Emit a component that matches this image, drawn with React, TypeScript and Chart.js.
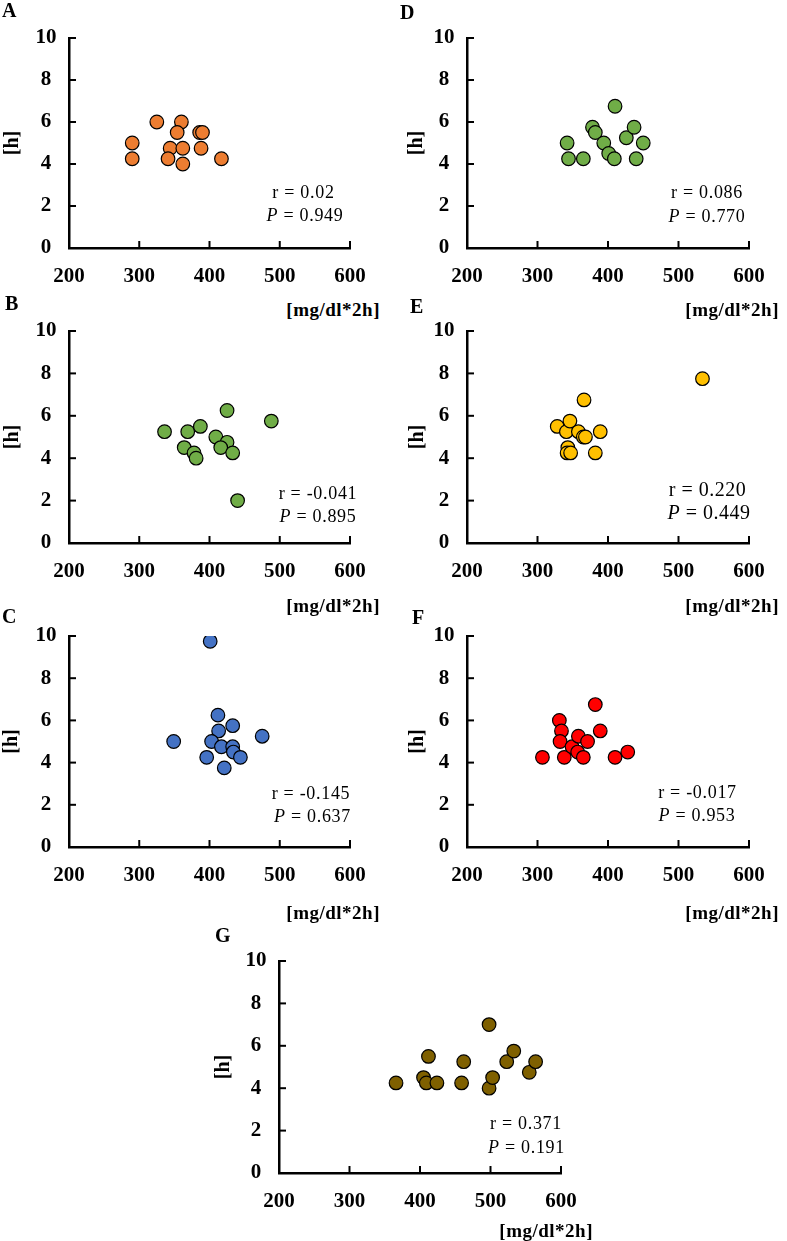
import { useEffect, useRef } from "react"
import Chart from "chart.js/auto"

// x: glucose AUC [mg/dl*2h], y: duration [h]
const aGlucose = [290, 290, 325, 360, 354, 344, 341, 362, 362, 386, 390, 388, 417]
const aHours = [5.0, 4.25, 6.0, 6.0, 5.5, 4.75, 4.25, 4.75, 4.0, 5.5, 5.5, 4.75, 4.25]

const bGlucose = [336, 369, 387, 364, 378, 381, 409, 425, 425, 416, 433, 488, 440]
const bHours = [5.25, 5.25, 5.5, 4.5, 4.25, 4.0, 5.0, 6.25, 4.75, 4.5, 4.25, 5.75, 2.0]

const cGlucose = [401, 349, 396, 412, 413, 403, 417, 433, 433, 434, 444, 421, 475]
const cHours = [9.75, 5.0, 4.25, 6.25, 5.5, 5.0, 4.75, 5.75, 4.75, 4.5, 4.25, 3.75, 5.25]

const dGlucose = [342, 344, 365, 378, 382, 394, 401, 409, 410, 426, 437, 440, 450]
const dHours = [5.0, 4.25, 4.25, 5.75, 5.5, 5.0, 4.5, 4.25, 6.75, 5.25, 5.75, 4.25, 5.0]

const eGlucose = [328, 341, 346, 358, 365, 368, 366, 389, 382, 343, 342, 347, 534]
const eHours = [5.5, 5.25, 5.75, 5.25, 5.0, 5.0, 6.75, 5.25, 4.25, 4.5, 4.25, 4.25, 7.75]

const fGlucose = [307, 331, 334, 332, 338, 349, 357, 358, 365, 371, 382, 389, 410, 428]
const fHours = [4.25, 6.0, 5.5, 5.0, 4.25, 4.75, 4.5, 5.25, 4.25, 5.0, 6.75, 5.5, 4.25, 4.5]

const gGlucose = [366, 405, 412, 409, 424, 459, 462, 498, 498, 503, 523, 533, 555, 564]
const gHours = [4.25, 4.5, 5.5, 4.25, 4.25, 4.25, 5.25, 7.0, 4.0, 4.5, 5.25, 5.75, 4.75, 5.25]

const xTicks = [200, 300, 400, 500, 600]
const yTicks = [0, 2, 4, 6, 8, 10]

const rValues = ["0.02", "-0.041", "-0.145", "0.086", "0.220", "-0.017", "0.371"]
const pValues = ["0.949", "0.895", "0.637", "0.770", "0.449", "0.953", "0.191"]

const SERIF = "'Liberation Serif', 'Times New Roman', serif"
Chart.defaults.font.family = SERIF
Chart.defaults.color = "#000"

type Panel = {
  letter: string
  xs: number[]
  ys: number[]
  r: string
  p: string
  color: string
  // plot area in page px
  left: number
  right: number
  top: number
  bottom: number
  titleX: number
  letterPos: [number, number]
  rPos: [number, number]
  pPos: [number, number]
  unitPos: [number, number] // right edge, center y
  textSize: number
}

const panels: Panel[] = [
  { letter: "A", xs: aGlucose, ys: aHours, r: rValues[0], p: pValues[0], color: "#ED7D31",
    left: 69, right: 350, top: 38, bottom: 248, titleX: 12,
    letterPos: [2, 10], rPos: [303.5, 192], pPos: [305, 215], unitPos: [380, 307], textSize: 18 },
  { letter: "B", xs: bGlucose, ys: bHours, r: rValues[1], p: pValues[1], color: "#70AD47",
    left: 69, right: 350, top: 331, bottom: 543, titleX: 12,
    letterPos: [5, 303], rPos: [318, 493], pPos: [318, 516], unitPos: [380, 603], textSize: 18 },
  { letter: "C", xs: cGlucose, ys: cHours, r: rValues[2], p: pValues[2], color: "#4472C4",
    left: 69, right: 350, top: 636, bottom: 847, titleX: 11,
    letterPos: [2, 616], rPos: [311, 793], pPos: [312.5, 816], unitPos: [380, 910], textSize: 18 },
  { letter: "D", xs: dGlucose, ys: dHours, r: rValues[3], p: pValues[3], color: "#70AD47",
    left: 467, right: 749, top: 38, bottom: 248, titleX: 416,
    letterPos: [400, 11.7], rPos: [707, 192], pPos: [707, 216], unitPos: [779, 307], textSize: 18 },
  { letter: "E", xs: eGlucose, ys: eHours, r: rValues[4], p: pValues[4], color: "#FFC000",
    left: 467, right: 749, top: 331, bottom: 543, titleX: 417,
    letterPos: [410, 306], rPos: [707.5, 489], pPos: [709, 512], unitPos: [779, 603], textSize: 20 },
  { letter: "F", xs: fGlucose, ys: fHours, r: rValues[5], p: pValues[5], color: "#FF0000",
    left: 467, right: 749, top: 636, bottom: 847, titleX: 417,
    letterPos: [412, 617], rPos: [697.5, 792], pPos: [697, 815], unitPos: [779, 910], textSize: 18 },
  { letter: "G", xs: gGlucose, ys: gHours, r: rValues[6], p: pValues[6], color: "#7F6000",
    left: 279, right: 561, top: 961, bottom: 1173, titleX: 223,
    letterPos: [215, 935], rPos: [526, 1123], pPos: [526.5, 1147], unitPos: [593, 1228], textSize: 18 },
]

// tick marks pointing into the plot area
const innerTicks = {
  id: "innerTicks",
  afterDraw(chart: any) {
    const { ctx, scales } = chart
    const x = scales.x
    const y = scales.y
    ctx.save()
    ctx.strokeStyle = "#000"
    ctx.lineWidth = 2
    x.ticks.forEach((t: any) => {
      const px = x.getPixelForValue(t.value)
      ctx.beginPath()
      ctx.moveTo(px, y.bottom)
      ctx.lineTo(px, y.bottom - 7)
      ctx.stroke()
    })
    y.ticks.forEach((t: any) => {
      const py = y.getPixelForValue(t.value)
      ctx.beginPath()
      ctx.moveTo(x.left, py)
      ctx.lineTo(x.left + 7, py)
      ctx.stroke()
    })
    ctx.restore()
  },
}

// must exceed the scales' own label overflow (half label + tick padding)
const PAD_TOP = 30
const PAD_RIGHT = 36
const X_AXIS_H = 48

function ScatterPanel({ panel }: { panel: Panel }) {
  const chartRef = useRef<HTMLCanvasElement>(null)

  const cLeft = panel.titleX - 12
  const cTop = panel.top - PAD_TOP
  const width = panel.right + PAD_RIGHT - cLeft
  const height = panel.bottom + X_AXIS_H - cTop
  const yAxisW = panel.left - cLeft

  useEffect(() => {
    if (!chartRef.current) return
    const chart = new Chart(chartRef.current, {
      type: "scatter",
      data: {
        datasets: [
          {
            data: panel.xs.map((x, i) => ({ x, y: panel.ys[i] })),
            pointBackgroundColor: panel.color,
            pointBorderColor: "#000",
            pointBorderWidth: 1.2,
            pointRadius: 6.8,
            showLine: false,
          },
        ],
      },
      options: {
        responsive: false,
        animation: false,
        layout: { padding: { top: PAD_TOP, right: PAD_RIGHT, left: 0, bottom: 0 } },
        plugins: { legend: { display: false }, tooltip: { enabled: false } },
        scales: {
          x: {
            type: "linear",
            min: xTicks[0],
            max: xTicks[xTicks.length - 1],
            afterBuildTicks: (s: any) => {
              s.ticks = xTicks.map((v) => ({ value: v }))
            },
            afterFit: (s: any) => {
              s.height = X_AXIS_H
            },
            grid: { display: false, drawTicks: false },
            border: { color: "#000", width: 2.5 },
            ticks: { color: "#000", padding: 16, autoSkip: false, maxRotation: 0, font: { size: 21, weight: "bold" } },
          },
          y: {
            type: "linear",
            min: yTicks[0],
            max: yTicks[yTicks.length - 1],
            afterBuildTicks: (s: any) => {
              s.ticks = yTicks.map((v) => ({ value: v }))
            },
            afterFit: (s: any) => {
              s.width = yAxisW
            },
            grid: { display: false, drawTicks: false },
            border: { color: "#000", width: 2.5 },
            ticks: { color: "#000", padding: 12.5, crossAlign: "center", autoSkip: false, font: { size: 21, weight: "bold" } },
            title: { display: true, text: "[h]", color: "#000", padding: { top: 0.6, bottom: 0 }, font: { size: 20, weight: "bold" } },
          },
        },
      },
      plugins: [innerTicks],
    } as any)
    return () => chart.destroy()
  }, [panel])

  const label = (x: number, y: number, extra: any, children: any) => (
    <div
      style={{
        position: "absolute",
        left: x,
        top: y,
        transform: "translate(-50%, -50%)",
        whiteSpace: "nowrap",
        lineHeight: 1,
        fontFamily: SERIF,
        color: "#000",
        ...extra,
      }}
    >
      {children}
    </div>
  )

  const statStyle = { fontSize: panel.textSize, letterSpacing: panel.textSize > 18 ? "0.5px" : "0.7px" }

  return (
    <>
      <canvas
        ref={chartRef}
        width={width}
        height={height}
        style={{ position: "absolute", left: cLeft, top: cTop, width, height }}
      />
      <div
        style={{
          position: "absolute",
          left: panel.letterPos[0],
          top: panel.letterPos[1],
          transform: "translateY(-50%)",
          lineHeight: 1,
          fontFamily: SERIF,
          fontWeight: "bold",
          fontSize: 20,
        }}
      >
        {panel.letter}
      </div>
      {label(panel.rPos[0], panel.rPos[1], statStyle, <>r = {panel.r}</>)}
      {label(panel.pPos[0], panel.pPos[1], statStyle, <><i>P</i> = {panel.p}</>)}
      <div
        style={{
          position: "absolute",
          right: 787 - panel.unitPos[0],
          top: panel.unitPos[1] + 1.5,
          transform: "translateY(-50%)",
          whiteSpace: "nowrap",
          lineHeight: 1,
          fontFamily: SERIF,
          fontWeight: "bold",
          fontSize: 19,
          letterSpacing: "0.5px",
        }}
      >
        [mg/dl*2h]
      </div>
    </>
  )
}

export default function App() {
  return (
    <div
      style={{
        position: "absolute",
        left: 0,
        top: 0,
        width: 787,
        height: 1241,
        background: "#fff",
        overflow: "hidden",
      }}
    >
      {panels.map((p) => (
        <ScatterPanel key={p.letter} panel={p} />
      ))}
    </div>
  )
}
